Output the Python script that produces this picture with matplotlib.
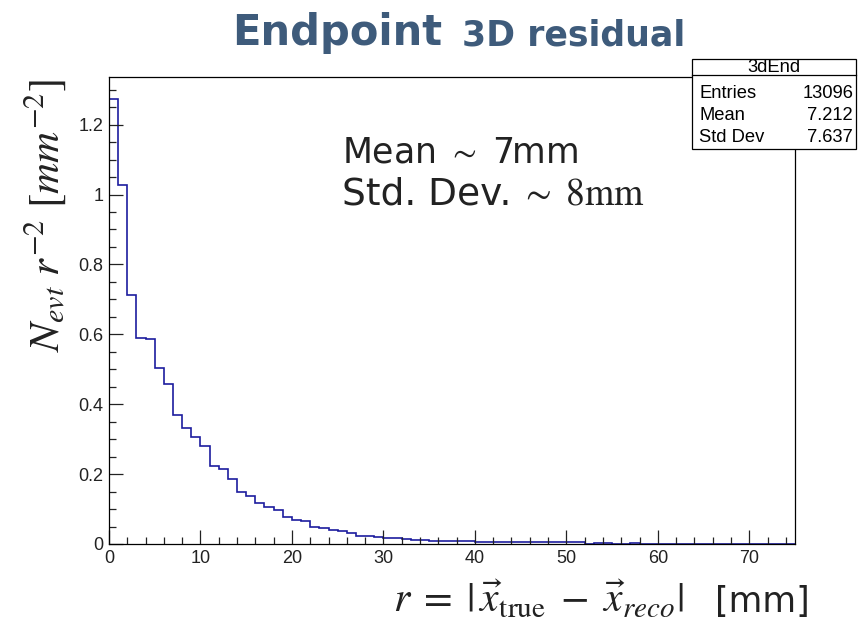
import numpy as np
import matplotlib
matplotlib.use("Agg")
import matplotlib.pyplot as plt
from matplotlib.patches import Rectangle
from matplotlib.lines import Line2D
from matplotlib.ticker import MultipleLocator, FuncFormatter

plt.rcParams['mathtext.fontset'] = 'stix'

# 1 mm bins, normalised counts N/r^2
bin_edges = np.arange(0, 76, 1)
bin_values = [
    1.274, 1.026, 0.713, 0.589, 0.587, 0.503, 0.457, 0.369, 0.331, 0.307,
    0.279, 0.223, 0.215, 0.187, 0.150, 0.138, 0.117, 0.107, 0.096, 0.077,
    0.069, 0.065, 0.049, 0.046, 0.041, 0.037, 0.031, 0.024, 0.022, 0.019,
    0.017, 0.016, 0.014, 0.012, 0.011, 0.010, 0.009, 0.009, 0.009, 0.008,
    0.005, 0.005, 0.005, 0.005, 0.005, 0.005, 0.005, 0.005, 0.005, 0.005,
    0.005, 0.005, 0.0, 0.004, 0.004, 0.0, 0.0, 0.004,
]
bin_values = bin_values + [0.0] * (len(bin_edges) - 1 - len(bin_values))

stat_names = ['Entries', 'Mean', 'Std Dev']
stat_values = ['13096', '7.212', '7.637']

W, H = 863, 622
fig = plt.figure(figsize=(W / 100, H / 100), dpi=100)


def fx(px):
    return px / W


def fy(py):
    return 1 - py / H


ax = fig.add_axes([fx(109), fy(544), fx(795) - fx(109), fy(76.5) - fy(544)])
ax.stairs(bin_values, bin_edges, color='#1c1c9e', linewidth=1.2)
ax.set_xlim(0, 75)
ax.set_ylim(0, max(bin_values) * 1.05)

ax.xaxis.set_major_locator(MultipleLocator(10))
ax.xaxis.set_minor_locator(MultipleLocator(2))
ax.yaxis.set_major_locator(MultipleLocator(0.2))
ax.yaxis.set_minor_locator(MultipleLocator(0.05))
ax.yaxis.set_major_formatter(FuncFormatter(lambda v, p: '%g' % round(v, 2)))
ax.tick_params(which='both', direction='in', top=False, right=False,
               labelsize=13, width=0.9, colors='#222222')
ax.tick_params(which='major', length=10, pad=4)
ax.tick_params(which='minor', length=5)
for lab in ax.get_xticklabels() + ax.get_yticklabels():
    lab.set_family('Liberation Sans')
for sp in ax.spines.values():
    sp.set_linewidth(0.9)

# axis titles
fig.text(fx(45), fy(215), r'$N_{evt}\ r^{-2}\ [mm^{-2}]$', rotation=90,
         ha='center', va='center', fontsize=31, color='#222222')
fig.text(fx(393), fy(612), r'$r\;=\;|\,\vec{x}_{\mathrm{true}}\;-\;\vec{x}_{reco}|$',
         ha='left', va='baseline', fontsize=30, color='#222222')
fig.text(fx(810), fy(612), '[mm]', ha='right', va='baseline', fontsize=25,
         color='#222222', family='DejaVu Sans')

# title
title_color = '#3e5b7b'
fig.text(fx(232), fy(45), 'Endpoint', ha='left', va='baseline',
         fontsize=30, fontweight='bold', color=title_color, family='DejaVu Sans')
fig.text(fx(462), fy(45), '3D residual', ha='left', va='baseline',
         fontsize=25, fontweight='bold', color=title_color, family='DejaVu Sans')

# summary annotation
fig.text(fx(342), fy(163), r'Mean $\sim$ 7mm', ha='left', va='baseline',
         fontsize=25, color='#222222', family='DejaVu Sans')
fig.text(fx(342), fy(205), 'Std. Dev.', ha='left', va='baseline',
         fontsize=27, color='#222222', family='DejaVu Sans')
fig.text(fx(520), fy(205), r'$\sim\ \mathrm{8mm}$', ha='left', va='baseline',
         fontsize=27, color='#222222')

# statistics box
bx0, bx1, by0, by1, bdiv = 691.7, 855.7, 59, 149, 75
fig.patches.append(Rectangle((fx(bx0), fy(by1)), fx(bx1) - fx(bx0), fy(by0) - fy(by1),
                             transform=fig.transFigure, facecolor='white',
                             edgecolor='black', linewidth=0.9, zorder=5))
fig.lines.append(Line2D([fx(bx0), fx(bx1)], [fy(bdiv), fy(bdiv)],
                        transform=fig.transFigure, color='black', linewidth=0.9, zorder=6))
fig.text(fx((bx0 + bx1) / 2), fy(67.5), '3dEnd', ha='center', va='center',
         fontsize=13.2, family='Liberation Sans', zorder=7)
for i, (name, val) in enumerate(zip(stat_names, stat_values)):
    yy = fy(93 + i * 22.2)
    fig.text(fx(699), yy, name, ha='left', va='center', fontsize=13.2,
             family='Liberation Sans', zorder=7)
    fig.text(fx(853), yy, val, ha='right', va='center', fontsize=13.2,
             family='Liberation Sans', zorder=7)

fig.savefig('out.png', dpi=100)
